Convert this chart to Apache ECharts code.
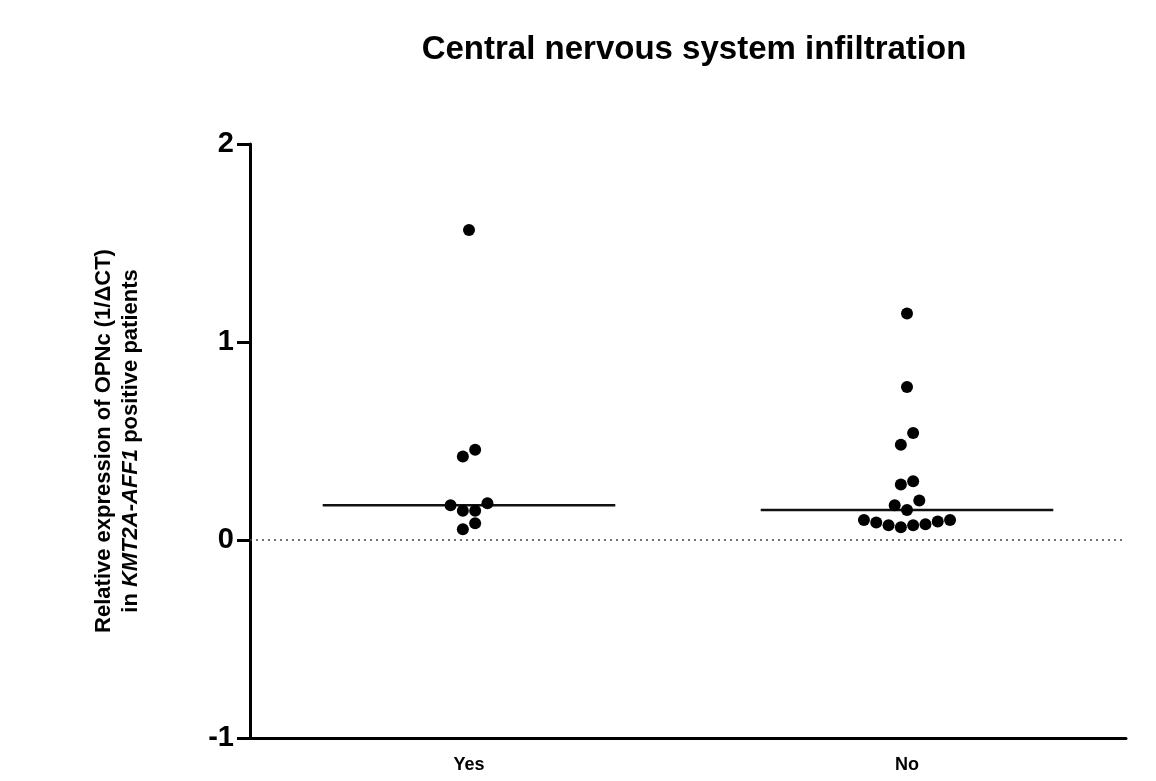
<!DOCTYPE html>
<html>
<head>
<meta charset="utf-8">
<script src="https://cdn.jsdelivr.net/npm/echarts@6/dist/echarts.min.js"></script>
<style>html,body{margin:0;padding:0;background:#fff}#c{width:1156px;height:781px}</style>
</head>
<body>
<div id="c"></div>
<script>
var categories = ['Yes', 'No'];
var yesValues = [1.566, 0.456, 0.422, 0.186, 0.176, 0.148, 0.148, 0.085, 0.054];
var noValues = [1.144, 0.773, 0.540, 0.481, 0.297, 0.280, 0.199, 0.176, 0.152,
                0.101, 0.101, 0.093, 0.088, 0.080, 0.074, 0.074, 0.064];
var yTicks = [-1, 0, 1, 2];
var title = 'Central nervous system infiltration';

var DOT = 12.3;          // dot diameter in px
var BIN = 0.062;         // row height in data units (~ dot diameter)

function median(arr) {
  var s = arr.slice().sort(function (a, b) { return a - b; });
  var n = s.length;
  return n % 2 ? s[(n - 1) / 2] : (s[n / 2 - 1] + s[n / 2]) / 2;
}

// beeswarm-like rows: group sorted values into rows, spread each row symmetrically
function swarm(cat, arr) {
  var s = arr.slice().sort(function (a, b) { return a - b; });
  var rows = [], cur = null;
  s.forEach(function (v) {
    if (!cur || v - cur.start >= BIN) { cur = { start: v, vals: [] }; rows.push(cur); }
    cur.vals.push(v);
  });
  var out = [];
  rows.forEach(function (r) {
    var n = r.vals.length;
    r.vals.forEach(function (v, i) {
      var slot;
      if (n % 2) {
        slot = i === 0 ? 0 : (i % 2 ? -Math.ceil(i / 2) : Math.ceil(i / 2));
      } else {
        var k = Math.floor(i / 2) + 0.5;
        slot = i % 2 ? k : -k;
      }
      out.push({ value: [cat, v], symbolOffset: [slot * DOT, 0] });
    });
  });
  return out;
}

var medians = [median(yesValues), median(noValues)];
var chart = echarts.init(document.getElementById('c'));
var fontFam = '"Liberation Sans", Arial, sans-serif';

chart.setOption({
  animation: false,
  title: {
    text: title, left: 689, textAlign: 'center', top: 28,
    textStyle: { fontFamily: fontFam, fontWeight: 'bold', fontSize: 33, color: '#000' }
  },
  grid: { left: 250, right: 30, top: 144, bottom: 43, containLabel: false },
  xAxis: {
    type: 'category', data: categories, boundaryGap: true,
    axisLine: { onZero: false, lineStyle: { color: '#000', width: 3 } },
    axisTick: { alignWithLabel: true, length: 7, lineStyle: { color: '#000', width: 2 } },
    axisLabel: { margin: 18, fontFamily: fontFam, fontWeight: 'bold', fontSize: 18, color: '#000' },
    splitLine: { show: false }
  },
  yAxis: {
    type: 'value', min: -1, max: 2, interval: 1,
    axisLine: { show: true, lineStyle: { color: '#000', width: 3 } },
    axisTick: { show: true, length: 13, lineStyle: { color: '#000', width: 3 } },
    axisLabel: {
      margin: 16, fontFamily: fontFam, fontWeight: 'bold', fontSize: 29, color: '#000',
      formatter: function (v) { return yTicks.indexOf(v) >= 0 ? String(v) : ''; }
    },
    splitLine: { show: false },
    name: 'Relative expression of OPNc (1/\u0394CT)\n{n|in }{i|KMT2A-AFF1}{n| positive patients}',
    nameLocation: 'middle', nameRotate: 90, nameGap: 106,
    nameTextStyle: {
      fontFamily: fontFam, fontWeight: 'bold', fontSize: 22, color: '#000', lineHeight: 27,
      rich: {
        n: { fontFamily: fontFam, fontWeight: 'bold', fontSize: 22, color: '#000', lineHeight: 27 },
        i: { fontFamily: fontFam, fontWeight: 'bold', fontStyle: 'italic', fontSize: 22, color: '#000', lineHeight: 27 }
      }
    }
  },
  series: [
    {
      type: 'scatter', symbol: 'circle', symbolSize: 12,
      itemStyle: { color: '#000', opacity: 1 },
      data: swarm('Yes', yesValues).concat(swarm('No', noValues)),
      markLine: {
        silent: true, symbol: 'none', label: { show: false },
        lineStyle: { type: [2, 4], color: '#444', width: 1.5 },
        data: [{ yAxis: 0 }]
      },
      z: 3
    },
    {
      type: 'custom',
      data: medians.map(function (m, i) { return [i, m]; }),
      renderItem: function (params, api) {
        var p = api.coord([api.value(0), api.value(1)]);
        var half = api.size([1, 0])[0] * 0.334;
        return {
          type: 'line',
          shape: { x1: p[0] - half, y1: p[1], x2: p[0] + half, y2: p[1] },
          style: { stroke: '#111', lineWidth: 2.5 }
        };
      },
      z: 2
    }
  ]
});
</script>
</body>
</html>
